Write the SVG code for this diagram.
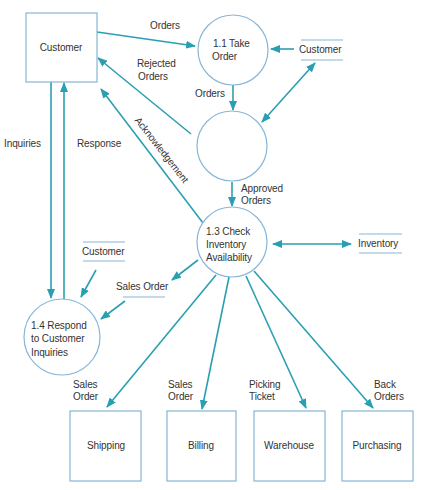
<svg xmlns="http://www.w3.org/2000/svg" width="424" height="490" viewBox="0 0 424 490">
<style>
text{font-family:"Liberation Sans",Arial,sans-serif;font-size:10px;fill:#333;letter-spacing:-0.1px}
.c{text-anchor:middle}
.node{fill:#fff;stroke:#86b6d6;stroke-width:1.2}
.store{stroke:#86b6d6;stroke-width:1.2}
.f{fill:none;stroke:#2b9fb2;stroke-width:1.6}
</style>
<defs>
<marker id="a" markerUnits="userSpaceOnUse" markerWidth="10" markerHeight="8" refX="9" refY="4" orient="auto-start-reverse">
<path d="M0,0 L10,4 L0,8 z" fill="#2b9fb2"/>
</marker>
</defs>
<rect width="424" height="490" fill="#fff"/>
<g id="connectors">
<line class="f" x1="97" y1="32" x2="195" y2="46" marker-end="url(#a)"/>
<line class="f" x1="191" y1="134" x2="98" y2="58" marker-end="url(#a)"/>
<line class="f" x1="203" y1="223" x2="101" y2="89" marker-end="url(#a)"/>
<line class="f" x1="233" y1="85" x2="233" y2="110" marker-end="url(#a)"/>
<line class="f" x1="294" y1="49" x2="271" y2="49" marker-end="url(#a)"/>
<line class="f" x1="315" y1="63" x2="262" y2="122" marker-start="url(#a)" marker-end="url(#a)"/>
<line class="f" x1="232" y1="182" x2="232" y2="206" marker-end="url(#a)"/>
<line class="f" x1="273" y1="244" x2="351" y2="244" marker-start="url(#a)" marker-end="url(#a)"/>
<line class="f" x1="51" y1="82" x2="51" y2="298" marker-end="url(#a)"/>
<line class="f" x1="64" y1="299" x2="64" y2="83" marker-end="url(#a)"/>
<line class="f" x1="96" y1="270" x2="81" y2="297" marker-end="url(#a)"/>
<line class="f" x1="198" y1="260" x2="172" y2="280" marker-end="url(#a)"/>
<line class="f" x1="125" y1="301" x2="101" y2="319" marker-end="url(#a)"/>
<line class="f" x1="216" y1="275" x2="107" y2="407" marker-end="url(#a)"/>
<line class="f" x1="229" y1="277" x2="202" y2="409" marker-end="url(#a)"/>
<line class="f" x1="246" y1="276" x2="306" y2="408" marker-end="url(#a)"/>
<line class="f" x1="254" y1="271" x2="373" y2="408" marker-end="url(#a)"/>
</g>
<g id="labels">
<text x="150" y="29">Orders</text>
<text x="137" y="67">Rejected</text>
<text x="138" y="80">Orders</text>
<text x="195" y="97">Orders</text>
<text x="241" y="192">Approved</text>
<text x="241" y="204">Orders</text>
<text x="4" y="147">Inquiries</text>
<text x="77" y="147">Response</text>
<text class="c" transform="translate(159,152) rotate(52)">Acknowledgement</text>
<text x="116" y="290">Sales Order</text>
<text x="73" y="388">Sales</text>
<text x="73" y="400">Order</text>
<text x="168" y="388">Sales</text>
<text x="168" y="400">Order</text>
<text x="249" y="388">Picking</text>
<text x="249" y="400">Ticket</text>
<text x="374" y="388">Back</text>
<text x="374" y="400">Orders</text>
</g>
<g id="customer">
<rect class="node" x="26" y="13" width="71" height="69"/>
<text class="c" x="61" y="51">Customer</text>
</g>
<g id="p1_1">
<circle class="node" cx="233" cy="50" r="35"/>
<text x="213" y="47">1.1 Take</text>
<text x="212" y="60">Order</text>
</g>
<g id="p1_2">
<circle class="node" cx="232" cy="146" r="35"/>
</g>
<g id="p1_3">
<circle class="node" cx="232" cy="242" r="35"/>
<text x="206" y="235">1.3 Check</text>
<text x="206" y="248">Inventory</text>
<text x="206" y="261">Availability</text>
</g>
<g id="p1_4">
<circle class="node" cx="62" cy="337" r="38"/>
<text x="31" y="329">1.4 Respond</text>
<text x="31" y="342">to Customer</text>
<text x="31" y="356">Inquiries</text>
</g>
<g id="store_customer_top">
<line class="store" x1="301" y1="40" x2="343" y2="40"/>
<line class="store" x1="301" y1="60" x2="343" y2="60"/>
<text x="299" y="53">Customer</text>
</g>
<g id="store_customer_left">
<line class="store" x1="83" y1="242" x2="125" y2="242"/>
<line class="store" x1="83" y1="261" x2="125" y2="261"/>
<text x="82" y="255">Customer</text>
</g>
<g id="store_sales_order">
<line class="store" x1="123" y1="297" x2="165" y2="297"/>
</g>
<g id="store_inventory">
<line class="store" x1="359" y1="234" x2="402" y2="234"/>
<line class="store" x1="359" y1="253" x2="402" y2="253"/>
<text x="358" y="247">Inventory</text>
</g>
<g id="shipping">
<rect class="node" x="70" y="411" width="71" height="70"/>
<text class="c" x="106" y="449">Shipping</text>
</g>
<g id="billing">
<rect class="node" x="167" y="411" width="69" height="70"/>
<text class="c" x="201" y="449">Billing</text>
</g>
<g id="warehouse">
<rect class="node" x="254" y="411" width="71" height="70"/>
<text class="c" x="289" y="449">Warehouse</text>
</g>
<g id="purchasing">
<rect class="node" x="342" y="411" width="71" height="70"/>
<text class="c" x="377" y="449">Purchasing</text>
</g>
</svg>
